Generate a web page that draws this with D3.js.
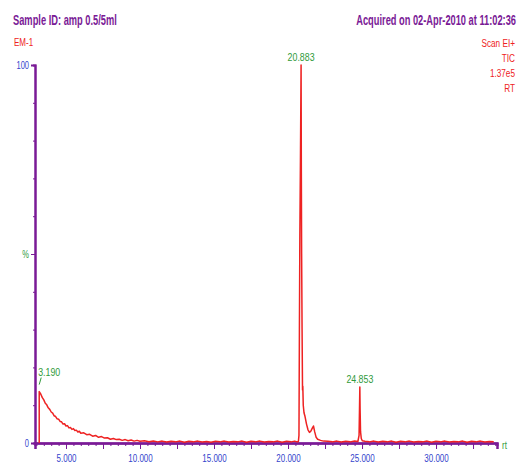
<!DOCTYPE html>
<html>
<head>
<meta charset="utf-8">
<script src="https://cdn.jsdelivr.net/npm/d3@7"></script>
<style>
  body { margin: 0; background: #fff; }
  svg text { font-family: "Liberation Sans Narrow", "Arial Narrow", "Liberation Sans", sans-serif; }
</style>
</head>
<body>
<div id="chart-area"></div>
<script>
// chromatogram trace: retention time (min) and intensity (%)
var rt = [
  3.19, 3.19, 3.3, 3.4, 3.5, 3.6, 3.7, 3.8, 3.9, 4.0, 4.1, 4.2, 4.3, 4.4, 4.5, 4.6, 4.7, 4.8, 4.9,
  5.0, 5.1, 5.2, 5.3, 5.4, 5.5, 5.6, 5.7, 5.8, 5.9, 6.0, 6.2, 6.4, 6.6, 6.8, 7.0, 7.2, 7.4, 7.6,
  7.8, 8.0, 8.2, 8.4, 8.6, 8.8, 9.0, 9.2, 9.4, 9.6, 9.8, 10.0, 10.3, 10.6, 10.9, 11.2, 11.5, 11.8,
  12.1, 12.4, 12.7, 13.0, 13.3, 13.6, 13.9, 14.2, 14.5, 14.8, 15.1, 15.4, 15.7, 16.0, 16.3, 16.6,
  16.9, 17.2, 17.5, 17.8, 18.1, 18.4, 18.7, 19.0, 19.3, 19.6, 19.9, 20.2, 20.45, 20.62, 20.7,
  20.74, 20.77, 20.8, 20.84, 20.883, 20.9, 20.92, 20.95, 20.98, 21.0, 21.03, 21.08, 21.15, 21.25,
  21.35, 21.45, 21.55, 21.65, 21.72, 21.8, 21.9, 22.0, 22.2, 22.4, 22.7, 23.0, 23.3, 23.6, 23.9,
  24.2, 24.5, 24.72, 24.8, 24.83, 24.853, 24.87, 24.9, 24.95, 25.02, 25.2, 25.5, 25.8, 26.1, 26.4,
  26.7, 27.0, 27.3, 27.6, 27.9, 28.2, 28.5, 28.8, 29.1, 29.4, 29.7, 30.0, 30.3, 30.6, 30.9, 31.2,
  31.5, 31.8, 32.1, 32.4, 32.7, 33.0, 33.3, 33.6, 33.9
];
var pct = [
  0, 13.6, 12.9, 12.0, 11.4, 10.5, 10.1, 9.3, 8.9, 8.2, 7.9, 7.2, 7.0, 6.4, 6.3, 5.7, 5.6, 5.0, 5.1,
  4.5, 4.6, 4.0, 4.1, 3.6, 3.8, 3.3, 3.4, 2.9, 3.1, 2.6, 2.7, 2.2, 2.3, 1.8, 2.0, 1.5, 1.7, 1.3,
  1.4, 1.0, 1.2, 0.9, 1.0, 0.7, 0.9, 0.6, 0.8, 0.5, 0.7, 0.45, 0.6, 0.35, 0.55, 0.3, 0.5, 0.25,
  0.45, 0.3, 0.5, 0.2, 0.45, 0.3, 0.5, 0.25, 0.4, 0.2, 0.45, 0.3, 0.5, 0.25, 0.4, 0.3,
  0.5, 0.2, 0.45, 0.3, 0.5, 0.25, 0.4, 0.3, 0.5, 0.2, 0.45, 0.3, 0.5, 0.3, 0.4,
  2, 30, 55, 75, 100, 72, 50, 30, 14, 15, 10, 8, 7, 5,
  3.5, 2.8, 3.2, 4.0, 4.5, 3.0, 1.5, 1.0, 0.7, 0.5, 0.45, 0.3, 0.5, 0.25, 0.45,
  0.3, 0.5, 0.4, 2, 9, 14.8, 9, 3, 1.2, 0.6, 0.45, 0.3, 0.5, 0.25, 0.45,
  0.3, 0.5, 0.2, 0.45, 0.3, 0.5, 0.25, 0.4, 0.3, 0.5, 0.2, 0.45, 0.3, 0.5, 0.25, 0.4,
  0.3, 0.5, 0.2, 0.45, 0.3, 0.5, 0.25, 0.4, 0.3
];

// labelled peaks
var peakRt = [3.190, 20.883, 24.853];
var peakPct = [13.6, 100, 14.8];

// axis labels
var xTickLabels = [5, 10, 15, 20, 25, 30];
var yTickLabels = ["0", "%", "100"];
var yTickValues = [0, 50, 100];
var infoLines = ["Scan EI+", "TIC", "1.37e5", "RT"];

var purple = "#7a1a96", blue = "#3344cc", green = "#2f9a3a", red = "#ee2222";

var svg = d3.select("#chart-area").append("svg")
    .attr("width", 521)
    .attr("height", 468);

var x = d3.scaleLinear().domain([2.905, 34.12]).range([35, 497]);
var y = d3.scaleLinear().domain([0, 100]).range([443, 65]);

// no narrow font installed, so squeeze the text like Arial Narrow
function condense(sel, k) {
    sel.each(function () {
        var w = this.getComputedTextLength();
        if (w > 0) d3.select(this).attr("textLength", w * k).attr("lengthAdjust", "spacingAndGlyphs");
    });
}
// same, but keep the right edge at xr (anchor start so the box is exact)
function condenseRight(sel, k, xr) {
    sel.each(function () {
        var w = this.getComputedTextLength() * k;
        d3.select(this).attr("text-anchor", "start").attr("x", xr - w)
            .attr("textLength", w).attr("lengthAdjust", "spacingAndGlyphs");
    });
}
// header lines: squeeze to a given width with a scale transform
function header(txt, x0, y0, width, anchor) {
    var t = svg.append("text")
        .attr("font-size", 14).attr("font-weight", "bold").attr("fill", purple)
        .attr("text-anchor", anchor)
        .text(txt);
    var k = width / t.node().getComputedTextLength();
    t.attr("transform", `translate(${x0},${y0}) scale(${k},1)`);
}

header("Sample ID: amp 0.5/5ml", 13, 25, 104, "start");
header("Acquired on 02-Apr-2010 at 11:02:36", 516, 25, 160, "end");

var em = svg.append("text").attr("x", 14).attr("y", 46)
    .attr("font-size", 10).attr("fill", red).text("EM-1");
condense(em, 0.8);
var info = svg.selectAll(".info").data(infoLines).enter().append("text")
    .attr("class", "info")
    .attr("y", (d, i) => 47 + i * 15)
    .attr("font-size", 10).attr("fill", red)
    .text(d => d);
condenseRight(info, 0.82, 515);

// x axis: minor, mid and labelled ticks
var gx = svg.append("g").attr("transform", "translate(0,443)");
gx.append("g").call(d3.axisBottom(x).tickValues(d3.range(3, 34.01, 0.5)).tickSize(3))
    .selectAll("text").remove();
gx.append("g").call(d3.axisBottom(x).tickValues(d3.range(5, 34, 2.5)).tickSize(6))
    .selectAll("text").remove();
gx.append("g").call(d3.axisBottom(x).tickValues(xTickLabels).tickSize(6).tickPadding(6).tickFormat(d3.format(".3f")));
gx.selectAll(".domain").attr("stroke", purple).attr("stroke-width", 2);
gx.selectAll("line").attr("stroke", purple);
var xl = gx.selectAll("text").attr("fill", blue).attr("font-size", 10)
    .attr("font-family", "'Liberation Sans Narrow', 'Arial Narrow', 'Liberation Sans', sans-serif");
condense(xl, 0.8);
var rtLabel = gx.append("text").attr("x", 502).attr("y", 6)
    .attr("font-size", 10).attr("fill", green).text("rt");
condense(rtLabel, 0.8);

// y axis
var gy = svg.append("g").attr("transform", "translate(35,0)");
gy.append("g").call(d3.axisLeft(y).tickValues(d3.range(0, 101, 10)).tickSize(2))
    .selectAll("text").remove();
gy.append("g").call(d3.axisLeft(y).tickValues(yTickValues).tickSize(4).tickPadding(2)
    .tickFormat((d, i) => yTickLabels[i]));
gy.selectAll(".domain").attr("stroke", purple).attr("stroke-width", 2);
gy.selectAll("line").attr("stroke", purple);
var yl = gy.selectAll("text").attr("fill", d => d === 50 ? green : blue).attr("font-size", 10)
    .attr("font-family", "'Liberation Sans Narrow', 'Arial Narrow', 'Liberation Sans', sans-serif");
condense(yl, 0.75);

// trace
var trace = rt.map((t, i) => [t, pct[i]]);
svg.append("path")
    .datum(trace)
    .attr("fill", "none")
    .attr("stroke", red)
    .attr("stroke-width", 1.5)
    .attr("stroke-linejoin", "round")
    .attr("d", d3.line().x(d => x(d[0])).y(d => y(d[1])));

// peak labels
var pl = svg.selectAll(".peak").data(peakRt).enter().append("text")
    .attr("class", "peak")
    .attr("x", (d, i) => i === 0 ? x(d) - 1 : x(d))
    .attr("y", (d, i) => y(peakPct[i]) - (i === 0 ? 16 : 4))
    .attr("text-anchor", (d, i) => i === 0 ? "start" : "middle")
    .attr("font-size", 11).attr("fill", green)
    .text(d => d.toFixed(3));
condense(pl, 0.8);
svg.append("line")
    .attr("x1", x(peakRt[0]) + 2).attr("y1", y(peakPct[0]) - 14)
    .attr("x2", x(peakRt[0])).attr("y2", y(peakPct[0]) - 7)
    .attr("stroke", green).attr("stroke-width", 1);
</script>
</body>
</html>
